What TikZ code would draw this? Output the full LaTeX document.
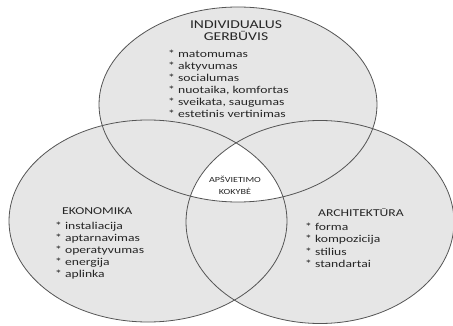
\documentclass[tikz,border=0pt]{standalone}
\usepackage{fontspec}
\setmainfont[FakeStretch=1.3]{Carlito}
\definecolor{vfill}{HTML}{E6E6E6}
\definecolor{vline}{HTML}{555555}
\definecolor{vtext}{HTML}{262626}
\tikzset{
  venn/.style={draw=vline, line width=0.8pt},
  head/.style={text=vtext, inner sep=0pt, font=\fontsize{10.5}{12}\selectfont},
  tophead/.style={text=vtext, inner sep=0pt, font=\fontsize{12}{12}\selectfont},
  item/.style={text=vtext, inner sep=0pt, anchor=base west, font=\fontsize{10.5}{12}\selectfont},
  core/.style={text=vtext, inner sep=0pt, font=\fontsize{7.8}{11.5}\selectfont}
}
\begin{document}
\begin{tikzpicture}[x=1pt,y=-1pt]
\useasboundingbox (0,0) rectangle (453,326);
\def\ET{(238,104.5) ellipse [x radius=139, y radius=97.5]}
\def\EL{(148,221) ellipse [x radius=139, y radius=101]}
\def\ER{(320,222) ellipse [x radius=134, y radius=101.5]}
\fill[vfill] \ET;
\fill[vfill] \EL;
\fill[vfill] \ER;
\begin{scope}
  \clip \ET;
  \clip \EL;
  \fill[white] \ER;
\end{scope}
\draw[venn] \ET;
\draw[venn] \EL;
\draw[venn] \ER;
% top
\node[tophead, anchor=base] (t1) at (236,29) {INDIVIDUALUS};
\node[tophead, anchor=base] (t2) at (236,41) {GERBŪVIS};
\foreach [count=\i] \t in {matomumas, aktyvumas, socialumas, {nuotaika, komfortas}, {sveikata, saugumas}, estetinis vertinimas}
  \node[item] (ti\i) at (168,46+12*\i) {* \t};
% left
\node[head, anchor=base west] (l0) at (62,214.5) {EKONOMIKA};
\foreach [count=\i] \t in {instaliacija, aptarnavimas, operatyvumas, energija, aplinka}
  \node[item] (li\i) at (55,217.5+12*\i) {* \t};
% right
\node[head, anchor=base west] (r0) at (318,216.5) {ARCHITEKTŪRA};
\foreach [count=\i] \t in {forma, kompozicija, stilius, standartai}
  \node[item] (ri\i) at (305,218.5+12.2*\i) {* \t};
% centre
\node[core, anchor=base] (c1) at (235,182.5) {APŠVIETIMO};
\node[core, anchor=base] (c2) at (235,194.3) {KOKYBĖ};
\end{tikzpicture}
\end{document}
